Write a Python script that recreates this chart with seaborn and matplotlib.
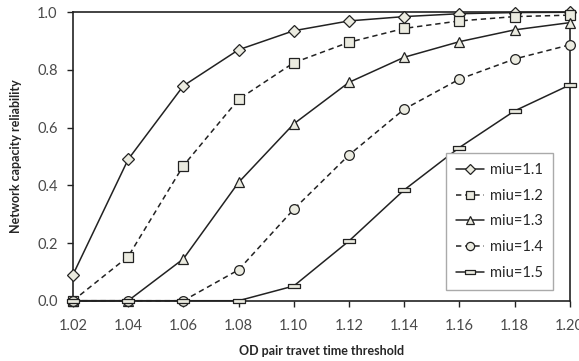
import numpy as np
import pandas as pd
import seaborn as sns
import matplotlib.pyplot as plt
from matplotlib.path import Path

# data
thresholds = [1.02, 1.04, 1.06, 1.08, 1.10, 1.12, 1.14, 1.16, 1.18, 1.20]
miu_labels = ["miu=1.1", "miu=1.2", "miu=1.3", "miu=1.4", "miu=1.5"]
miu_11 = [0.09, 0.49, 0.745, 0.87, 0.936, 0.97, 0.985, 0.995, 0.999, 1.0]
miu_12 = [0.0, 0.153, 0.468, 0.698, 0.825, 0.896, 0.944, 0.97, 0.985, 0.99]
miu_13 = [0.0, 0.0, 0.145, 0.41, 0.613, 0.757, 0.844, 0.898, 0.939, 0.964]
miu_14 = [0.0, 0.0, 0.0, 0.107, 0.317, 0.505, 0.664, 0.768, 0.838, 0.887]
miu_15 = [0.0, 0.0, 0.0, 0.0, 0.051, 0.207, 0.384, 0.531, 0.658, 0.748]
series = [miu_11, miu_12, miu_13, miu_14, miu_15]

# flat rectangle marker for miu=1.5
rect = Path([(-1, -0.3), (1, -0.3), (1, 0.3), (-1, 0.3), (-1, -0.3)],
            [Path.MOVETO, Path.LINETO, Path.LINETO, Path.LINETO, Path.CLOSEPOLY])
styles = [
    dict(marker="D", ms=6.5, ls="-"),
    dict(marker="s", ms=6.5, ls=(0, (3.5, 2.5))),
    dict(marker="^", ms=7, ls="-"),
    dict(marker="o", ms=7, ls=(0, (3.5, 2.5))),
    dict(marker=rect, ms=9, ls="-"),
]

sns.set_style("ticks")
plt.rcParams["font.family"] = ["Lato", "DejaVu Sans"]

fig = plt.figure(figsize=(5.79, 3.61), dpi=100)
ax = fig.add_axes([0.126, 0.167, 0.858, 0.799])

for lab, vals, st in zip(miu_labels, series, styles):
    df = pd.DataFrame({"x": thresholds, "y": vals})
    sns.lineplot(data=df, x="x", y="y", ax=ax, color="#222222", lw=1.1,
                 marker=st["marker"], markersize=st["ms"], linestyle=st["ls"],
                 mfc="#ebebe0", mec="#222222", mew=0.9, label=lab,
                 clip_on=False, zorder=3)

ax.set_xlim(1.02, 1.20)
ax.set_ylim(0, 1.0)
ax.set_xticks(thresholds)
ax.set_xticklabels([f"{t:.2f}" for t in thresholds])
ax.set_yticks([0, 0.2, 0.4, 0.6, 0.8, 1.0])
ax.set_yticklabels([f"{v:.1f}" for v in [0, 0.2, 0.4, 0.6, 0.8, 1.0]])
ax.tick_params(axis="both", labelsize=10.5, labelcolor="#4a4a4a", color="#222222",
               length=4, width=1, direction="out")
ax.tick_params(axis="x", pad=9)
ax.tick_params(axis="y", pad=7)
for sp in ax.spines.values():
    sp.set_visible(True)
    sp.set_color("#222222")
    sp.set_linewidth(1.2)

ax.set_xlabel("OD pair travet time threshold", fontsize=9, fontweight="bold",
              labelpad=9)
ax.set_ylabel("Network capacity reliability", fontsize=9, fontweight="bold",
              labelpad=11)

leg = ax.legend(loc="lower right", bbox_to_anchor=(0.966, 0.037),
                borderaxespad=0, fontsize=10.5, handlelength=1.9, frameon=True,
                fancybox=False, framealpha=1, edgecolor="#aaaaaa",
                labelspacing=0.8, borderpad=0.7, markerscale=0.85,
                handletextpad=0.4)
leg.get_frame().set_linewidth(1)

fig.savefig("out.png", dpi=100)
